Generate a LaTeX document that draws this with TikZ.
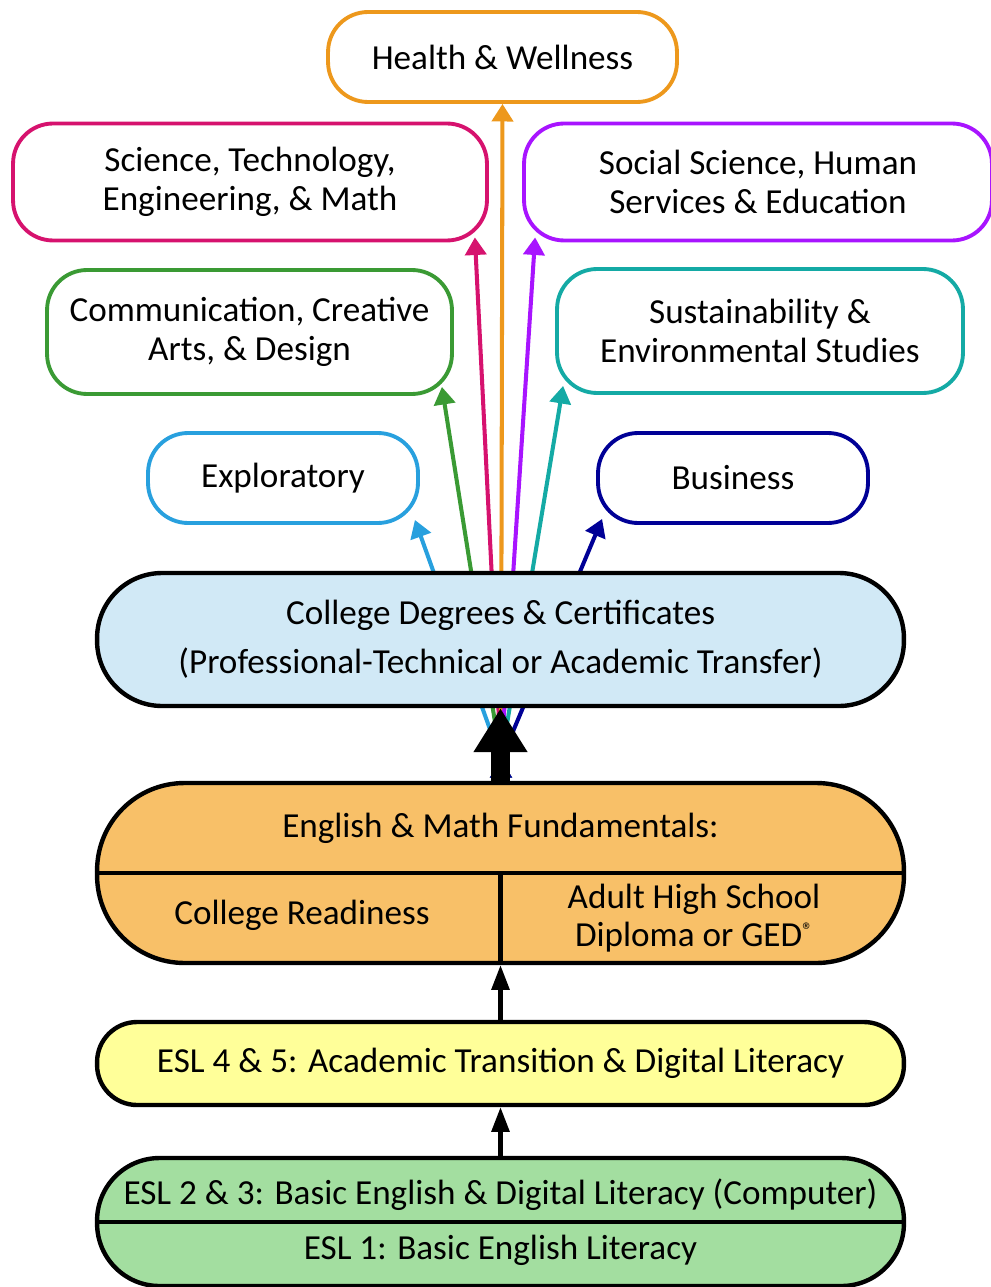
\documentclass[tikz,border=0pt]{standalone}
\usepackage{fontspec}
\setmainfont{Carlito}
\usepackage{tikz}
\usetikzlibrary{shapes.geometric, arrows.meta}
\usepackage{color}
\definecolor{healthc}{RGB}{237,152,28}
\definecolor{stemc}{RGB}{214,18,110}
\definecolor{socialc}{RGB}{168,20,255}
\definecolor{commc}{RGB}{58,154,52}
\definecolor{sustainc}{RGB}{20,170,165}
\definecolor{explorc}{RGB}{40,160,222}
\definecolor{busc}{RGB}{0,0,150}
\definecolor{degreefill}{RGB}{209,233,246}
\definecolor{fundfill}{RGB}{248,192,104}
\definecolor{eslhighfill}{RGB}{255,255,153}
\definecolor{eslfill}{RGB}{163,222,160}
\tikzstyle{track} = [rectangle,
rounded corners=0.8cm,
text centered,
align=center,
line width=2.2pt,
fill=white]
\tikzstyle{level} = [rectangle,
minimum width=16.14cm,
text centered,
align=center,
line width=2.5pt,
draw=black]
\tikzstyle{lvltext} = [text centered, align=center]
\tikzstyle{arr} = [-{Triangle[length=10pt,width=12pt]}, line width=2.3pt]
\tikzstyle{uparr} = [-{Triangle[length=14pt,width=10pt]}, line width=2.3pt]

\begin{document}
\begin{tikzpicture}[x=0.02cm, y=-0.02cm]
\tikzstyle{every node}=[font=\fontsize{20}{22}\selectfont]
\useasboundingbox (0,0) rectangle (990,1287);
% career pathways
\node (health) [track, draw=healthc, minimum width=6.98cm, minimum height=1.8cm] at (502.5,57) {Health \& Wellness};
\node (stem) [track, draw=stemc, minimum width=9.48cm, minimum height=2.34cm] at (250,182) {Science, Technology,\\Engineering, \& Math};
\node (social) [track, draw=socialc, minimum width=9.36cm, minimum height=2.34cm] at (758,182) {Social Science, Human\\Services \& Education};
\node (comm) [track, draw=commc, minimum width=8.1cm, minimum height=2.48cm] at (249.5,332) {Communication, Creative\\Arts, \& Design};
\node (sustain) [track, draw=sustainc, minimum width=8.12cm, minimum height=2.48cm] at (760,331) {Sustainability \&\\Environmental Studies};
\node (explor) [track, draw=explorc, minimum width=5.4cm, minimum height=1.8cm] at (283,478) {Exploratory};
\node (business) [track, draw=busc, minimum width=5.4cm, minimum height=1.8cm] at (733,478) {Business};
\coordinate (hub) at (501,760);

\draw [arr, explorc] (hub) edge ([shift={(-5,-5)}]explor.south east);
\draw [arr, commc] (hub) edge ([shift={(-12,-9)}]comm.south east);
\draw [arr, stemc] (hub) edge ([shift={(-14,-5)}]stem.south east);
\draw [arr, healthc] (hub) edge (health.south);
\draw [arr, socialc] (hub) edge ([shift={(13,-5)}]social.south west);
\draw [arr, sustainc] (hub) edge ([shift={(8,-9)}]sustain.south west);
\draw [arr, busc] (hub) edge ([shift={(6,-6)}]business.south west);

% levels
\node (degrees) [level, rounded corners=1.3cm, fill=degreefill, minimum height=2.66cm] at (500.5,639.5) {College Degrees \& Certificates\\[6pt](Professional-Technical or Academic Transfer)};
\node (fund) [level, rounded corners=1.75cm, fill=fundfill, minimum height=3.6cm] at (500.5,873) {};
\node (eslhigh) [level, rounded corners=0.8cm, fill=eslhighfill, minimum height=1.66cm] at (500.5,1063.5) {ESL 4 \& 5: Academic Transition \& Digital Literacy};
\node (esl) [level, rounded corners=1.25cm, fill=eslfill, minimum height=2.56cm] at (500.5,1222) {};

\draw [line width=2.5pt] (fund.west) -- (fund.east);
\draw [line width=2.5pt] (fund.center) -- (fund.south);
\draw [line width=2.5pt] (esl.west) -- (esl.east);

\node (fundtitle) [lvltext] at (500.5,828) {English \& Math Fundamentals:};
\node (ready) [lvltext] at (302,915) {College Readiness};
\node (diploma) [lvltext] at (694,918) {Adult High School\\Diploma or GED\raisebox{0.55ex}{\fontsize{12}{12}\selectfont ®}};
\node (eslmid) [lvltext] at (500.5,1195) {ESL 2 \& 3: Basic English \& Digital Literacy (Computer)};
\node (eslbase) [lvltext] at (500.5,1250) {ESL 1: Basic English Literacy};

\draw [-{Triangle[length=25pt,width=29pt]}, line width=11pt] (fund) edge (degrees);
\draw [uparr] (eslhigh) edge (fund);
\draw [uparr] (esl) edge (eslhigh);
\end{tikzpicture}
\end{document}
